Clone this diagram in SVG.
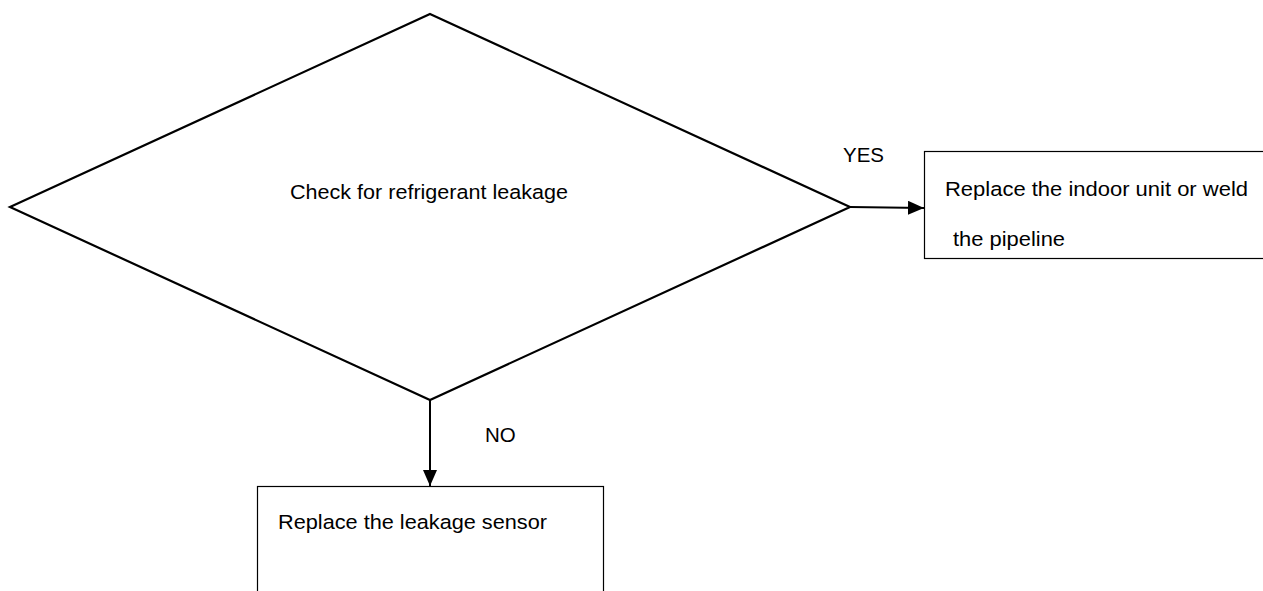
<svg xmlns="http://www.w3.org/2000/svg" width="1263" height="591" viewBox="0 0 1263 591">
<style>
.lbl{font-family:"Liberation Sans",Arial,sans-serif;font-size:20.5px;fill:#000}
.box{fill:#fff;stroke:#000;stroke-width:1.2}
.dia{fill:#fff;stroke:#000;stroke-width:2.2}
.conn{stroke:#000;stroke-width:2;fill:none}
</style>
<defs>
<marker id="arr" viewBox="0 0 16 14" refX="16" refY="7" markerWidth="16" markerHeight="14" markerUnits="userSpaceOnUse" orient="auto">
<path d="M0,0 L16,7 L0,14 Z" fill="#000"/>
</marker>
</defs>
<rect width="1263" height="591" fill="#fff"/>
<g id="decision">
<polygon class="dia" points="430,14 850,207 430,400 10,207"/>
<text class="lbl" x="290" y="199" textLength="278" lengthAdjust="spacingAndGlyphs">Check for refrigerant leakage</text>
</g>
<g id="replace-indoor">
<rect class="box" x="924.5" y="151.5" width="345" height="107"/>
<text class="lbl" x="945" y="196" textLength="303" lengthAdjust="spacingAndGlyphs">Replace the indoor unit or weld</text>
<text class="lbl" x="953" y="246" textLength="112" lengthAdjust="spacingAndGlyphs">the pipeline</text>
</g>
<g id="replace-sensor">
<rect class="box" x="257.5" y="486.5" width="346" height="120"/>
<text class="lbl" x="278" y="529" textLength="269" lengthAdjust="spacingAndGlyphs">Replace the leakage sensor</text>
</g>
<g id="connectors">
<line class="conn" x1="850" y1="207" x2="924" y2="208" marker-end="url(#arr)"/>
<line class="conn" x1="430" y1="400" x2="430" y2="486" marker-end="url(#arr)"/>
<text class="lbl" x="843" y="162">YES</text>
<text class="lbl" x="485" y="442">NO</text>
</g>
</svg>
